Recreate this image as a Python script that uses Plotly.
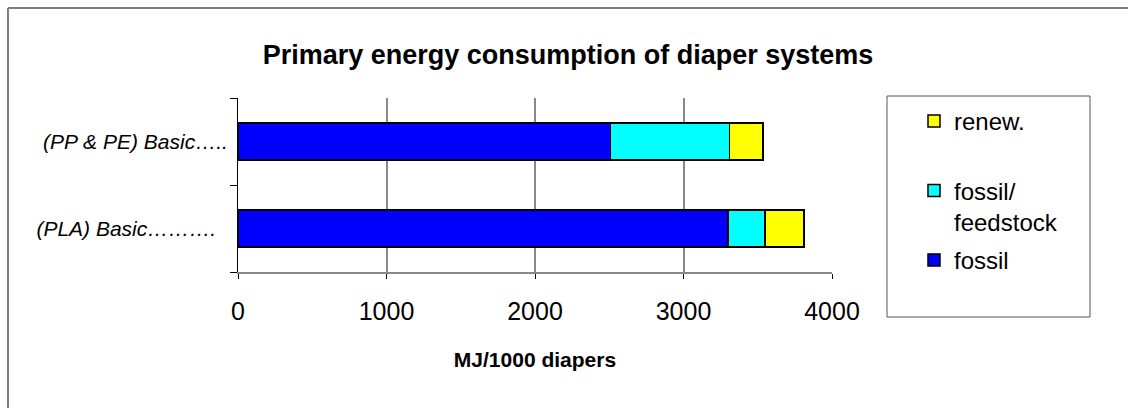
import plotly.graph_objects as go

# Diaper systems (bottom to top on the chart)
systems = ["(PLA) Basic……….", "(PP & PE) Basic….."]
# Trailing padding on the category labels as typeset in the chart
label_pad = ["\u00a0\u00a0", ""]

# Primary energy, MJ per 1000 diapers
fossil = [3300, 2510]
fossil_feedstock = [250, 800]
renewable = [260, 225]

series_names = ["fossil", "fossil/<br>feedstock", "renew.<br> "]
series_colors = ["#0000FF", "#00FFFF", "#FFFF00"]
legend_ranks = [3, 2, 1]

x_ticks = [0, 1000, 2000, 3000, 4000]

FONT = "Liberation Sans, Arial, sans-serif"

W, H = 1128, 408
L, R, T, B = 238, 296, 98, 136
pw, ph = W - L - R, H - T - B


def px_x(p):
    return (p - L) / pw


def px_y(p):
    return (H - B - p) / ph


fig = go.Figure()
for name, vals, col, rank in zip(series_names, [fossil, fossil_feedstock, renewable],
                                 series_colors, legend_ranks):
    fig.add_trace(go.Bar(
        y=systems, x=vals, name=name, orientation="h",
        marker=dict(color=col, line=dict(color="#000000", width=1.5)),
        legendgroup=name, legendrank=rank, width=0.42,
    ))

fig.update_layout(
    width=W, height=H,
    margin=dict(l=L, r=R, t=T, b=B, autoexpand=False),
    paper_bgcolor="white", plot_bgcolor="white",
    barmode="stack",
    font=dict(family=FONT, color="black"),
    title=dict(
        text="<b>Primary energy consumption of diaper systems</b>",
        font=dict(size=27, family=FONT, color="black"),
        x=568 / W, xanchor="center", y=1 - 55 / H, yanchor="middle",
    ),
    xaxis=dict(
        range=[0, 4000], tickvals=x_ticks, ticktext=[str(v) for v in x_ticks],
        showgrid=True, gridcolor="#888888", gridwidth=1.5,
        showline=True, linecolor="#888888", linewidth=2,
        ticks="outside", ticklen=5, tickcolor="black", tickwidth=1,
        tickfont=dict(size=25, family=FONT),
        ticklabelstandoff=11,
        zeroline=False,
        title=dict(text="<b>MJ/1000 diapers</b>", font=dict(size=21, family=FONT), standoff=28),
        fixedrange=True,
    ),
    yaxis=dict(
        type="category", categoryorder="array", categoryarray=systems,
        tickvals=systems,
        ticktext=["<i>" + s + "</i>" + p for s, p in zip(systems, label_pad)],
        showline=True, linecolor="black", linewidth=1,
        ticks="outside", ticklen=7, tickcolor="black", tickson="boundaries",
        tickfont=dict(size=21, family=FONT),
        ticklabelstandoff=5,
        showgrid=False, fixedrange=True,
    ),
    legend=dict(
        x=px_x(914), xanchor="left", y=px_y(99), yanchor="top",
        traceorder="grouped", tracegroupgap=4, valign="top",
        font=dict(size=24, family=FONT), bgcolor="rgba(0,0,0,0)", borderwidth=0,
        maxheight=400,
    ),
    showlegend=True,
)

# Legend frame
fig.add_shape(type="rect", xref="paper", yref="paper",
              x0=px_x(887), x1=px_x(1090), y0=px_y(317), y1=px_y(96),
              line=dict(color="#555555", width=1), layer="below")
# Chart frame: left and top edges
fig.add_shape(type="line", xref="paper", yref="paper",
              x0=px_x(8), x1=px_x(8), y0=px_y(408), y1=px_y(8),
              line=dict(color="#808080", width=2), layer="below")
fig.add_shape(type="line", xref="paper", yref="paper",
              x0=px_x(8), x1=px_x(1128), y0=px_y(8), y1=px_y(8),
              line=dict(color="#808080", width=2), layer="below")

fig.write_html("out.html", config={"displayModeBar": False})
